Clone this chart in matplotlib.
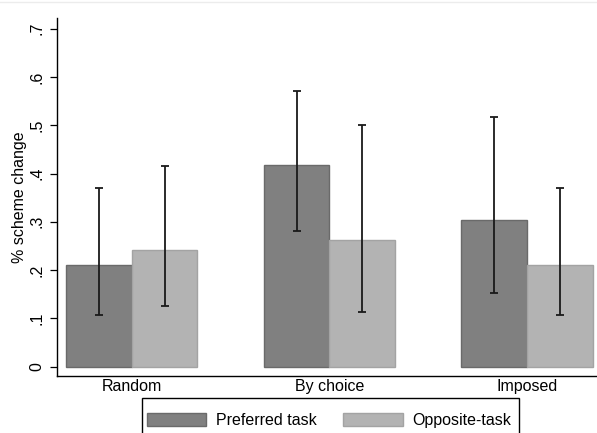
import numpy as np
import matplotlib
matplotlib.use("Agg")
from matplotlib import pyplot as plt
from matplotlib.patches import Rectangle
from matplotlib.lines import Line2D

plt.rcParams['font.family'] = ['Liberation Sans', 'DejaVu Sans']

groups = ["Random", "By choice", "Imposed"]
series = ["Preferred task", "Opposite-task"]

# mean share of scheme changes and 95% CI bounds
preferred = [0.21, 0.418, 0.304]
preferred_lo = [0.108, 0.281, 0.152]
preferred_hi = [0.370, 0.570, 0.517]

opposite = [0.242, 0.263, 0.210]
opposite_lo = [0.126, 0.114, 0.108]
opposite_hi = [0.416, 0.500, 0.370]

yticks = [0, .1, .2, .3, .4, .5, .6, .7]
ytick_labels = ["0", ".1", ".2", ".3", ".4", ".5", ".6", ".7"]

fig = plt.figure(figsize=(5.97, 4.33), dpi=100)
ax = fig.add_axes([57/597, 1 - 376/433, 540/597, 358/433])

x = np.arange(len(groups))
w = 0.332
fs = 11.5

b1 = ax.bar(x - w/2, preferred, w, color="#808080", edgecolor="#6a6a6a", linewidth=1)
b2 = ax.bar(x + w/2, opposite, w, color="#b3b3b3", edgecolor="#a3a3a3", linewidth=1)

for xs, vals, lo, hi in [(x - w/2, preferred, preferred_lo, preferred_hi),
                         (x + w/2, opposite, opposite_lo, opposite_hi)]:
    err = [np.array(vals) - np.array(lo), np.array(hi) - np.array(vals)]
    ax.errorbar(xs, vals, yerr=err, fmt="none", ecolor="#1a1a1a",
                elinewidth=1.3, capsize=3, capthick=1.3)

ax.set_xlim(-0.378, 2.354)
ax.set_ylim(-0.0193, 0.722)
ax.set_xticks(x)
ax.set_xticklabels(groups, fontsize=fs)
ax.tick_params(axis="x", length=0, pad=2)
ax.set_yticks(yticks)
ax.set_yticklabels(ytick_labels, fontsize=fs, rotation=90, va="center")
ax.tick_params(axis="y", length=5, width=0.9, pad=4)
ax.set_ylabel("% scheme change", fontsize=fs, labelpad=2)

for s in ["top", "right"]:
    ax.spines[s].set_visible(False)
for s in ["left", "bottom"]:
    ax.spines[s].set_linewidth(1)

leg = fig.legend([b1, b2], series, loc="upper left", bbox_to_anchor=(141/597, 1 - 407/433),
                 ncol=2, frameon=False, fontsize=fs, handlelength=3.75, handleheight=0.95,
                 handletextpad=0.6, columnspacing=1.65, borderpad=0.35, borderaxespad=0)

# legend frame, running off the bottom edge
fig.add_artist(Rectangle((141.5/597, -0.05), (519 - 141.5)/597, 0.05 + (1 - 398.5/433),
                         transform=fig.transFigure, fill=False, edgecolor="black", linewidth=1))
fig.add_artist(Line2D([0, 1], [1 - 2/433, 1 - 2/433], transform=fig.transFigure,
                      color="#ececec", linewidth=1))

fig.savefig("out.png", dpi=100)
